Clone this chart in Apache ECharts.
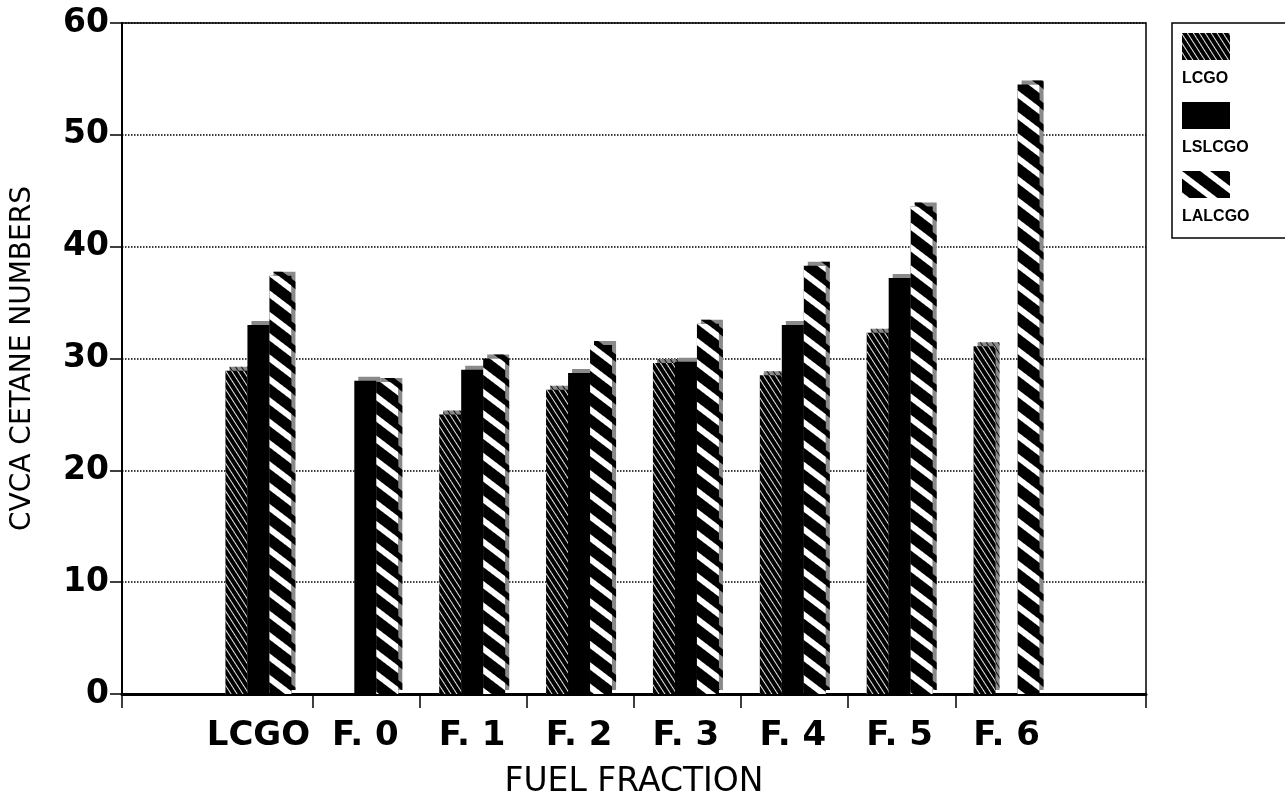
<!DOCTYPE html>
<html>
<head>
<meta charset="utf-8">
<script src="https://cdn.jsdelivr.net/npm/echarts@6/dist/echarts.min.js"></script>
<style>
  html, body { margin: 0; padding: 0; background: #fff; }
  #chart { width: 1285px; height: 795px; }
</style>
</head>
<body>
<div id="chart"></div>
<script>
// data
const categories = ['LCGO', 'F. 0', 'F. 1', 'F. 2', 'F. 3', 'F. 4', 'F. 5', 'F. 6'];
const seriesNames = ['LCGO', 'LSLCGO', 'LALCGO'];
const lcgo   = [28.9, null, 25.0, 27.2, 29.6, 28.5, 32.3, 31.1];
const lslcgo = [33.0, 28.0, 29.0, 28.7, 29.7, 33.0, 37.2, null];
const lalcgo = [37.4, 27.9, 30.0, 31.2, 33.1, 38.3, 43.6, 54.5];
const yTicks = [0, 10, 20, 30, 40, 50, 60];

const chart = echarts.init(document.getElementById('chart'));

const font = 'DejaVu Sans';
const pad = 0.78; // empty space left/right of the groups, in categories
const tickValues = [-pad];
for (let i = 1; i < categories.length; i++) tickValues.push(i);
tickValues.push(categories.length + pad);

// hatch patterns
const decals = [
  { color: 'rgba(255,255,255,0.9)', dashArrayX: [1, 0], dashArrayY: [1, 4], symbolSize: 1, rotation: 1.0 },
  null,
  { color: '#fff', dashArrayX: [1, 0], dashArrayY: [6, 11], symbolSize: 1, rotation: 0.65 }
];
const values = [lcgo, lslcgo, lalcgo];

const series = seriesNames.map((name, i) => ({
  name: name,
  type: 'bar',
  xAxisIndex: 1,
  yAxisIndex: 1,
  barWidth: 22,
  barGap: '0%',
  data: values[i],
  itemStyle: {
    color: '#000',
    borderWidth: 0,
    decal: decals[i] || undefined,
    shadowColor: '#8a8a8a',
    shadowOffsetX: 4,
    shadowOffsetY: -4,
    shadowBlur: 0
  },
  emphasis: { disabled: true }
}));

const options = {
  animation: false,
  backgroundColor: '#fff',
  grid: [
    { left: 122, right: 139, top: 23, bottom: 101, outerBoundsMode: 'none', containLabel: false,
      show: true, borderColor: '#000', borderWidth: 1.5 },
    { left: 205, right: 225, top: 23, bottom: 101, outerBoundsMode: 'none', containLabel: false }
  ],
  xAxis: [
    {
      gridIndex: 0,
      type: 'value',
      min: -pad,
      max: categories.length + pad,
      name: 'FUEL FRACTION',
      nameLocation: 'middle',
      nameGap: 72,
      nameTextStyle: { fontFamily: font, fontSize: 33, color: '#000' },
      axisLine: { show: true, onZero: false, lineStyle: { color: '#000', width: 3 } },
      axisTick: { show: true, length: 14, customValues: tickValues, lineStyle: { color: '#000', width: 1.5 } },
      axisLabel: { show: false },
      splitLine: { show: false }
    },
    {
      gridIndex: 1,
      type: 'category',
      data: categories,
      axisLine: { show: false },
      axisTick: { show: false },
      axisLabel: { interval: 0, fontFamily: font, fontWeight: 'bold', fontSize: 34, color: '#000', margin: 25 }
    }
  ],
  yAxis: [
    {
      gridIndex: 0,
      type: 'value',
      min: yTicks[0],
      max: yTicks[yTicks.length - 1],
      interval: 10,
      name: 'CVCA CETANE NUMBERS',
      nameLocation: 'middle',
      nameRotate: 90,
      nameGap: 85,
      nameTextStyle: { fontFamily: font, fontSize: 28, color: '#000' },
      axisLine: { show: true, onZero: false, lineStyle: { color: '#000', width: 2 } },
      axisTick: { show: true, length: 12, lineStyle: { color: '#000', width: 1.5 } },
      axisLabel: { fontFamily: font, fontWeight: 'bold', fontSize: 33, color: '#000', margin: 13 },
      splitLine: { show: true, lineStyle: { color: '#000', type: 'dotted', width: 1.5 } }
    },
    {
      gridIndex: 1, type: 'value', min: yTicks[0], max: yTicks[yTicks.length - 1], show: false,
      axisLine: { show: false, onZero: false }, axisTick: { show: false }, axisLabel: { show: false }, splitLine: { show: false }
    }
  ],
  legend: {
    orient: 'vertical',
    left: 1172,
    top: 23,
    padding: [10, 120, 40, 10],
    itemWidth: 48,
    itemHeight: 27,
    itemGap: 42,
    icon: 'rect',
    borderColor: '#000',
    borderWidth: 1.5,
    selectedMode: false,
    formatter: () => '',
    data: seriesNames
  },
  graphic: seriesNames.map((name, i) => ({
    type: 'text',
    left: 1182,
    top: 71 + i * 69,
    style: { text: name, font: 'bold 16px "Liberation Sans"', fill: '#000' }
  })),
  series: series
};

chart.setOption(options);
window.addEventListener('resize', chart.resize);
</script>
</body>
</html>
